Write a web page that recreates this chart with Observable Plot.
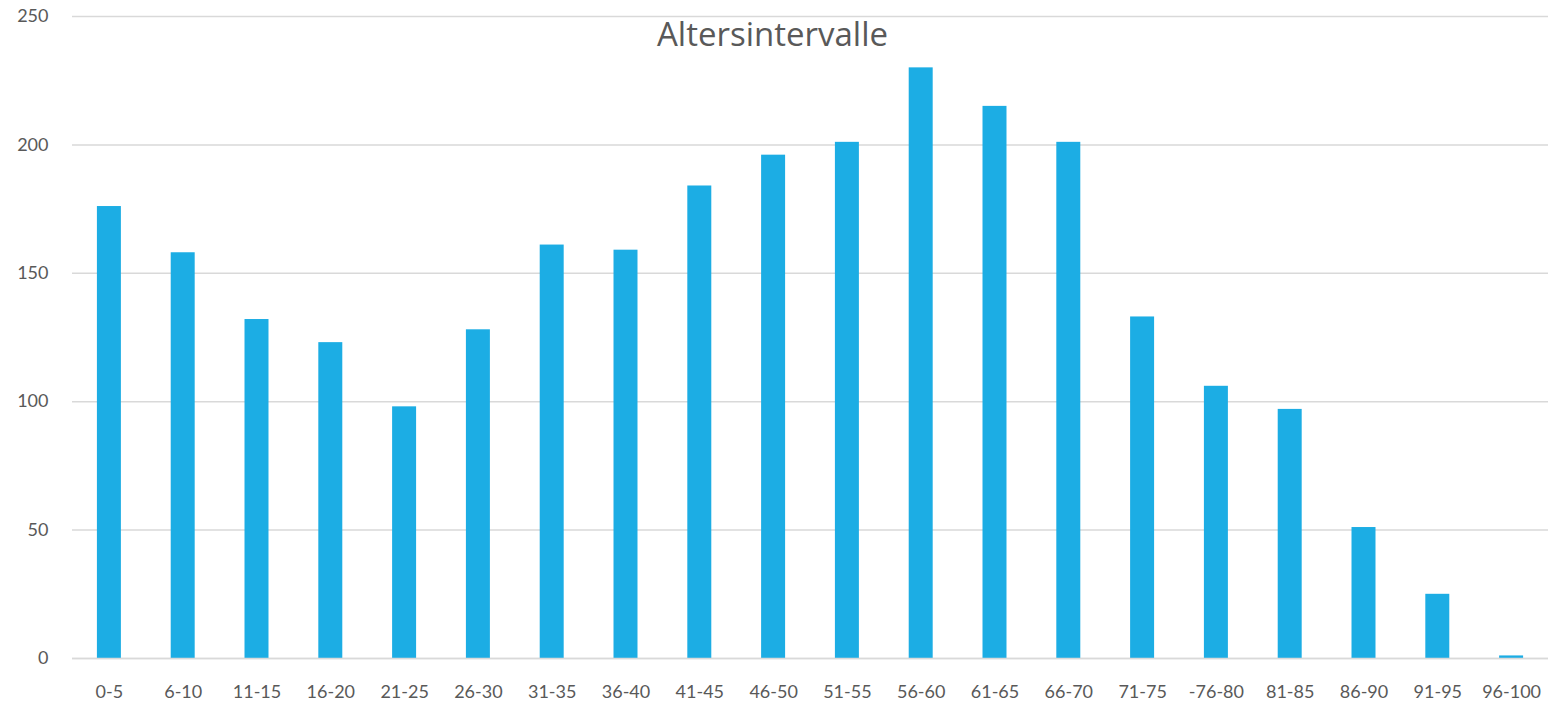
<!DOCTYPE html>
<html>
<head>
<meta charset="utf-8">
<script src="https://cdn.jsdelivr.net/npm/d3@7"></script>
<script src="https://cdn.jsdelivr.net/npm/@observablehq/plot@0.6"></script>
<style>
  html, body { margin: 0; padding: 0; background: #fff; }
  #chart { width: 1552px; height: 705px; }
</style>
</head>
<body>
<div id="chart"></div>
<script>
const categories = ["0-5","6-10","11-15","16-20","21-25","26-30","31-35","36-40","41-45","46-50","51-55","56-60","61-65","66-70","71-75","-76-80","81-85","86-90","91-95","96-100"];
const values = [176,158,132,123,98,128,161,159,184,196,201,230,215,201,133,106,97,51,25,1];
const yTicks = [0,50,100,150,200,250];
const title = "Altersintervalle";

const data = categories.map((c, i) => ({category: c, value: values[i]}));

const chart = Plot.plot({
  width: 1552,
  height: 705,
  marginTop: 16,
  marginBottom: 47,
  marginLeft: 72,
  marginRight: 4,
  style: {fontFamily: "Lato, 'Open Sans', sans-serif", fontSize: "18px", color: "#595959", background: "#fff"},
  x: {domain: categories, paddingInner: 0.675, paddingOuter: 0.3375, round: false, label: null, tickSize: 0, tickPadding: 27},
  y: {domain: [0, 250], ticks: yTicks, label: null, tickSize: 0, tickPadding: 24},
  marks: [
    Plot.gridY(yTicks, {stroke: "#d9d9d9", strokeOpacity: 1, strokeWidth: 1.5}),
    Plot.barY(data, {x: "category", y: "value", fill: "#1CADE4"}),
    Plot.ruleY([0], {stroke: "#d9d9d9", strokeWidth: 1.5}),
    Plot.text([title], {frameAnchor: "top", dx: -38, dy: 6, fontSize: 33, fill: "#595959", fontFamily: "'Open Sans', Lato, sans-serif"})
  ]
});
document.getElementById("chart").appendChild(chart);
</script>
</body>
</html>
